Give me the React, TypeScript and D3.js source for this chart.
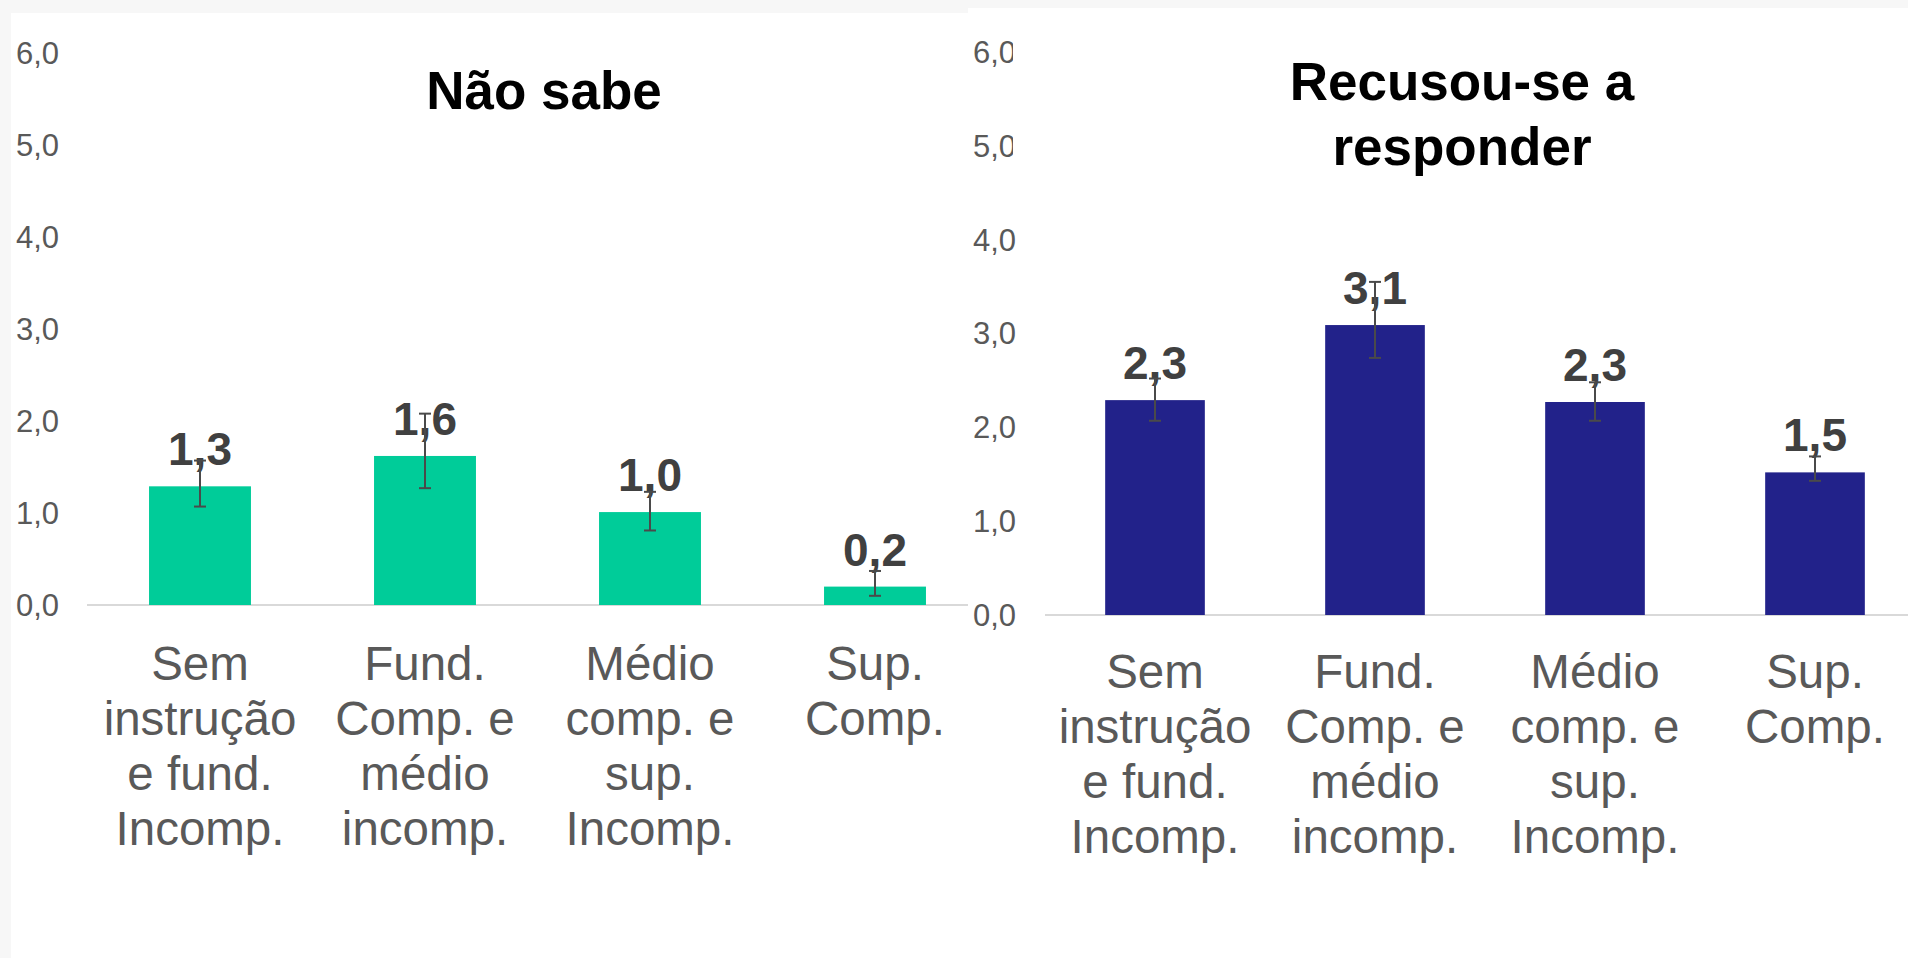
import React from "react";
import * as d3 from "d3";

const categoryLines: string[][] = [
  ["Sem", "instrução", "e fund.", "Incomp."],
  ["Fund.", "Comp. e", "médio", "incomp."],
  ["Médio", "comp. e", "sup.", "Incomp."],
  ["Sup.", "Comp."],
];
const categories = categoryLines.map((l) => l.join(" "));

const naoSabeValues = [1.29, 1.62, 1.01, 0.2];
const naoSabeLow = [1.07, 1.27, 0.81, 0.1];
const naoSabeHigh = [1.57, 2.08, 1.23, 0.37];

const recusouValues = [2.29, 3.09, 2.27, 1.52];
const recusouLow = [2.07, 2.74, 2.07, 1.43];
const recusouHigh = [2.52, 3.55, 2.48, 1.69];

const yTicks = [0, 1, 2, 3, 4, 5, 6];

const FONT = "'Liberation Sans', Arial, Helvetica, sans-serif";
const fmt = (v: number) => d3.format(".1f")(v).replace(".", ",");

type PanelProps = {
  values: number[];
  low: number[];
  high: number[];
  color: string;
  xRange: [number, number];
  yRange: [number, number];
  tickX: number;
  baselineX: [number, number];
  catBaseline: number;
};

function Panel({ values, low, high, color, xRange, yRange, tickX, baselineX, catBaseline }: PanelProps) {
  const x = d3.scaleBand<string>().domain(categories).range(xRange).paddingInner(0.547).paddingOuter(0.2735);
  const y = d3.scaleLinear().domain([0, 6]).range(yRange);
  const bw = x.bandwidth();
  return (
    <g>
      {yTicks.map((t) => (
        <text key={t} x={tickX} y={y(t)} dy="0.35em" textAnchor="end" fontFamily={FONT} fontSize={31} fill="#595959">
          {fmt(t)}
        </text>
      ))}
      <line x1={baselineX[0]} x2={baselineX[1]} y1={y(0)} y2={y(0)} stroke="#d9d9d9" strokeWidth={2} />
      {categories.map((c, i) => (
        <rect key={c} x={x(c)} y={y(values[i])} width={bw} height={y(0) - y(values[i])} fill={color} />
      ))}
      {categories.map((c, i) => (
        <text key={c} x={(x(c) as number) + bw / 2} y={y(values[i]) - 21} textAnchor="middle" fontFamily={FONT} fontWeight="bold" fontSize={46} fill="#404040">
          {fmt(values[i])}
        </text>
      ))}
      {categories.map((c, i) => {
        const cx = (x(c) as number) + bw / 2;
        return (
          <g key={c} stroke="#4a4a4a" strokeWidth={2}>
            <line x1={cx} x2={cx} y1={y(low[i])} y2={y(high[i])} />
            <line x1={cx - 6} x2={cx + 6} y1={y(low[i])} y2={y(low[i])} />
            <line x1={cx - 6} x2={cx + 6} y1={y(high[i])} y2={y(high[i])} />
          </g>
        );
      })}
      {categories.map((c, i) => (
        <text key={c} textAnchor="middle" fontFamily={FONT} fontSize={47.5} fill="#595959">
          {categoryLines[i].map((line, j) => (
            <tspan key={j} x={(x(c) as number) + bw / 2} y={catBaseline + j * 55}>
              {line}
            </tspan>
          ))}
        </text>
      ))}
    </g>
  );
}

export default function App() {
  return (
    <div style={{ position: "fixed", left: 0, top: 0 }}>
      <svg width={1908} height={958} style={{ display: "block" }}>
        <rect x={0} y={0} width={1908} height={958} fill="#f7f7f7" />
        {/* left card */}
        <rect x={11} y={13} width={1000} height={945} fill="#ffffff" />
        <Panel
          values={naoSabeValues}
          low={naoSabeLow}
          high={naoSabeHigh}
          color="#00CC99"
          xRange={[87.5, 987.5]}
          yRange={[605, 53]}
          tickX={59}
          baselineX={[87, 968]}
          catBaseline={680}
        />
        <text x={544} y={109} textAnchor="middle" fontFamily={FONT} fontWeight="bold" fontSize={53} fill="#000000">
          Não sabe
        </text>
        {/* right card */}
        <rect x={968} y={8} width={940} height={950} fill="#ffffff" />
        <Panel
          values={recusouValues}
          low={recusouLow}
          high={recusouHigh}
          color="#22228A"
          xRange={[1045, 1925]}
          yRange={[615, 52]}
          tickX={1016}
          baselineX={[1045, 1908]}
          catBaseline={688}
        />
        <rect x={1013} y={20} width={890} height={160} fill="#ffffff" />
        <text textAnchor="middle" fontFamily={FONT} fontWeight="bold" fontSize={53} fill="#000000">
          <tspan x={1462} y={100}>Recusou-se a</tspan>
          <tspan x={1462} y={165}>responder</tspan>
        </text>
      </svg>
    </div>
  );
}
